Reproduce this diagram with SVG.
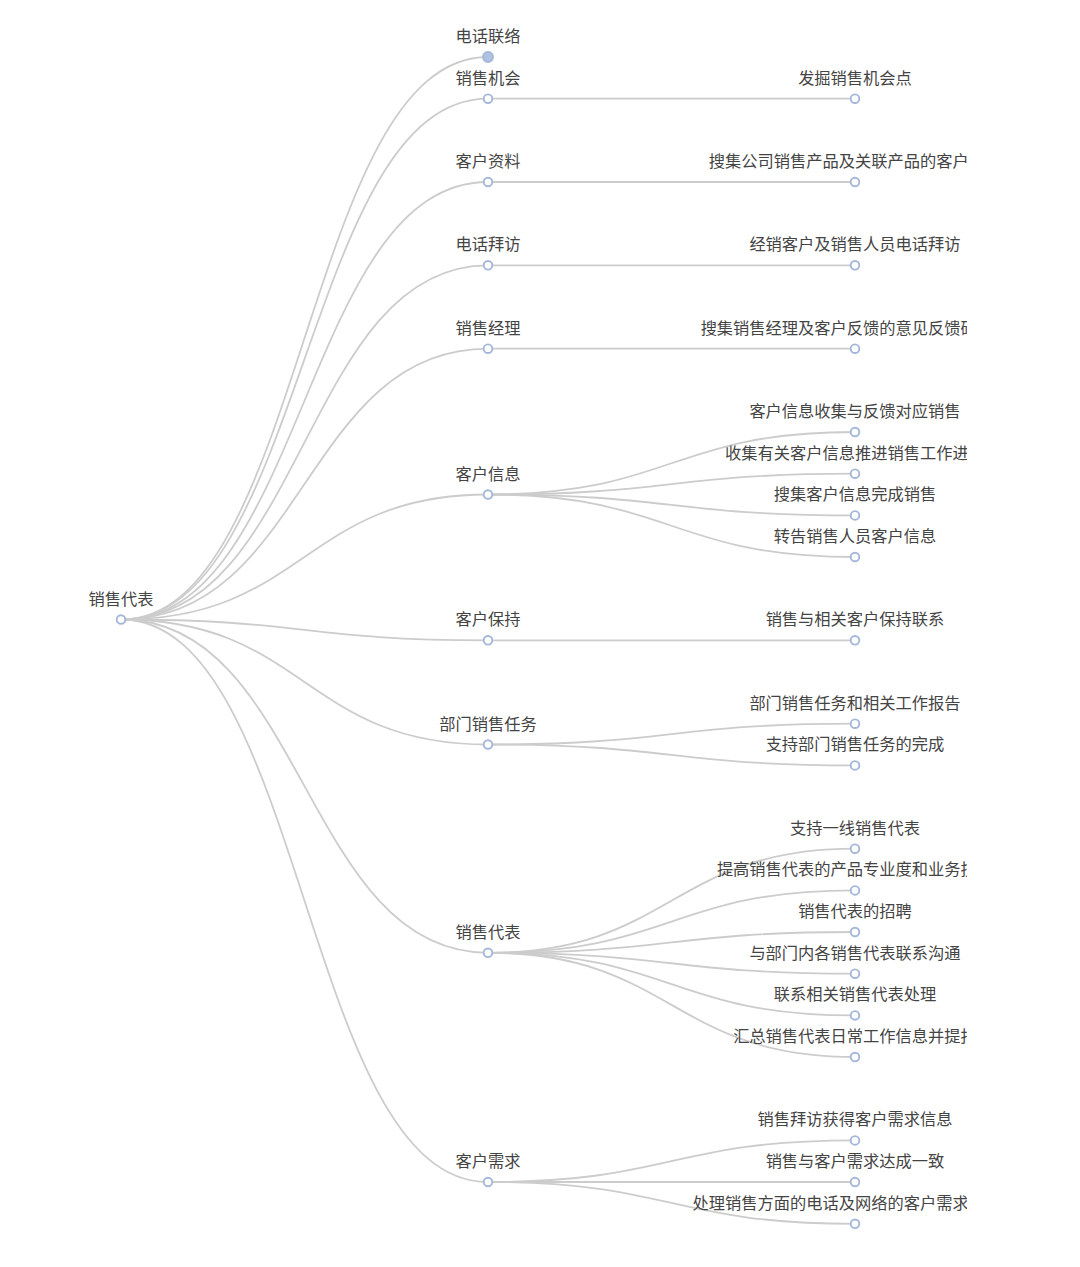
<svg xmlns="http://www.w3.org/2000/svg" width="1080" height="1267" viewBox="0 0 1080 1267">
<style>
.e{fill:none;stroke:#cccccc;stroke-width:1.8}
.n{fill:#ffffff;stroke:#a4b7da;stroke-width:1.9}
.c{fill:#b0c2e0;stroke:#a4b7da;stroke-width:1.9}
text{font-family:"Noto Sans CJK SC","Noto Sans",sans-serif;font-size:16.25px;fill:#444444;text-anchor:middle}
</style>
<defs>
<clipPath id="clip"><rect x="0" y="0" width="967" height="1267"/></clipPath>
</defs>
<rect width="1080" height="1267" fill="#ffffff"/>
<g id="connectors">
<path class="e" d="M121 619.5C304.5 619.5 304.5 57 488 57"/>
<path class="e" d="M121 619.5C304.5 619.5 304.5 98.7 488 98.7"/>
<path class="e" d="M121 619.5C304.5 619.5 304.5 182 488 182"/>
<path class="e" d="M121 619.5C304.5 619.5 304.5 265.3 488 265.3"/>
<path class="e" d="M121 619.5C304.5 619.5 304.5 348.7 488 348.7"/>
<path class="e" d="M121 619.5C304.5 619.5 304.5 494.5 488 494.5"/>
<path class="e" d="M121 619.5C304.5 619.5 304.5 640.3 488 640.3"/>
<path class="e" d="M121 619.5C304.5 619.5 304.5 744.5 488 744.5"/>
<path class="e" d="M121 619.5C304.5 619.5 304.5 952.8 488 952.8"/>
<path class="e" d="M121 619.5C304.5 619.5 304.5 1182 488 1182"/>
<path class="e" d="M488 98.7H855"/>
<path class="e" d="M488 182H855"/>
<path class="e" d="M488 265.3H855"/>
<path class="e" d="M488 348.7H855"/>
<path class="e" d="M488 494.5C671.5 494.5 671.5 432 855 432"/>
<path class="e" d="M488 494.5C671.5 494.5 671.5 473.7 855 473.7"/>
<path class="e" d="M488 494.5C671.5 494.5 671.5 515.4 855 515.4"/>
<path class="e" d="M488 494.5C671.5 494.5 671.5 557 855 557"/>
<path class="e" d="M488 640.3H855"/>
<path class="e" d="M488 744.5C671.5 744.5 671.5 723.7 855 723.7"/>
<path class="e" d="M488 744.5C671.5 744.5 671.5 765.4 855 765.4"/>
<path class="e" d="M488 952.8C671.5 952.8 671.5 848.7 855 848.7"/>
<path class="e" d="M488 952.8C671.5 952.8 671.5 890.4 855 890.4"/>
<path class="e" d="M488 952.8C671.5 952.8 671.5 932 855 932"/>
<path class="e" d="M488 952.8C671.5 952.8 671.5 973.7 855 973.7"/>
<path class="e" d="M488 952.8C671.5 952.8 671.5 1015.4 855 1015.4"/>
<path class="e" d="M488 952.8C671.5 952.8 671.5 1057 855 1057"/>
<path class="e" d="M488 1182C671.5 1182 671.5 1140.4 855 1140.4"/>
<path class="e" d="M488 1182H855"/>
<path class="e" d="M488 1182C671.5 1182 671.5 1223.8 855 1223.8"/>
</g>
<g id="root"><circle class="n" cx="121" cy="619.5" r="4.3"/><text x="121" y="605">销售代表</text></g>
<g id="n1"><circle class="c" cx="488" cy="57" r="5"/><text x="488" y="42">电话联络</text></g>
<g id="n2"><circle class="n" cx="488" cy="98.7" r="4.3"/><text x="488" y="83.7">销售机会</text></g>
<g id="n3"><circle class="n" cx="488" cy="182" r="4.3"/><text x="488" y="167">客户资料</text></g>
<g id="n4"><circle class="n" cx="488" cy="265.3" r="4.3"/><text x="488" y="250.3">电话拜访</text></g>
<g id="n5"><circle class="n" cx="488" cy="348.7" r="4.3"/><text x="488" y="333.7">销售经理</text></g>
<g id="n6"><circle class="n" cx="488" cy="494.5" r="4.3"/><text x="488" y="479.5">客户信息</text></g>
<g id="n7"><circle class="n" cx="488" cy="640.3" r="4.3"/><text x="488" y="625.3">客户保持</text></g>
<g id="n8"><circle class="n" cx="488" cy="744.5" r="4.3"/><text x="488" y="729.5">部门销售任务</text></g>
<g id="n9"><circle class="n" cx="488" cy="952.8" r="4.3"/><text x="488" y="937.8">销售代表</text></g>
<g id="n10"><circle class="n" cx="488" cy="1182" r="4.3"/><text x="488" y="1167">客户需求</text></g>
<g clip-path="url(#clip)">
<g id="l1"><circle class="n" cx="855" cy="98.7" r="4.3"/><text x="855" y="83.7">发掘销售机会点</text></g>
<g id="l2"><circle class="n" cx="855" cy="182" r="4.3"/><text x="855" y="167">搜集公司销售产品及关联产品的客户信息</text></g>
<g id="l3"><circle class="n" cx="855" cy="265.3" r="4.3"/><text x="855" y="250.3">经销客户及销售人员电话拜访</text></g>
<g id="l4"><circle class="n" cx="855" cy="348.7" r="4.3"/><text x="855" y="333.7">搜集销售经理及客户反馈的意见反馈研发部</text></g>
<g id="l5"><circle class="n" cx="855" cy="432" r="4.3"/><text x="855" y="417">客户信息收集与反馈对应销售</text></g>
<g id="l6"><circle class="n" cx="855" cy="473.7" r="4.3"/><text x="855" y="458.7">收集有关客户信息推进销售工作进展</text></g>
<g id="l7"><circle class="n" cx="855" cy="515.4" r="4.3"/><text x="855" y="500.4">搜集客户信息完成销售</text></g>
<g id="l8"><circle class="n" cx="855" cy="557" r="4.3"/><text x="855" y="542">转告销售人员客户信息</text></g>
<g id="l9"><circle class="n" cx="855" cy="640.3" r="4.3"/><text x="855" y="625.3">销售与相关客户保持联系</text></g>
<g id="l10"><circle class="n" cx="855" cy="723.7" r="4.3"/><text x="855" y="708.7">部门销售任务和相关工作报告</text></g>
<g id="l11"><circle class="n" cx="855" cy="765.4" r="4.3"/><text x="855" y="750.4">支持部门销售任务的完成</text></g>
<g id="l12"><circle class="n" cx="855" cy="848.7" r="4.3"/><text x="855" y="833.7">支持一线销售代表</text></g>
<g id="l13"><circle class="n" cx="855" cy="890.4" r="4.3"/><text x="855" y="875.4">提高销售代表的产品专业度和业务技能</text></g>
<g id="l14"><circle class="n" cx="855" cy="932" r="4.3"/><text x="855" y="917">销售代表的招聘</text></g>
<g id="l15"><circle class="n" cx="855" cy="973.7" r="4.3"/><text x="855" y="958.7">与部门内各销售代表联系沟通</text></g>
<g id="l16"><circle class="n" cx="855" cy="1015.4" r="4.3"/><text x="855" y="1000.4">联系相关销售代表处理</text></g>
<g id="l17"><circle class="n" cx="855" cy="1057" r="4.3"/><text x="855" y="1042">汇总销售代表日常工作信息并提报</text></g>
<g id="l18"><circle class="n" cx="855" cy="1140.4" r="4.3"/><text x="855" y="1125.4">销售拜访获得客户需求信息</text></g>
<g id="l19"><circle class="n" cx="855" cy="1182" r="4.3"/><text x="855" y="1167">销售与客户需求达成一致</text></g>
<g id="l20"><circle class="n" cx="855" cy="1223.8" r="4.3"/><text x="855" y="1208.8">处理销售方面的电话及网络的客户需求及投诉</text></g>
</g>
</svg>
